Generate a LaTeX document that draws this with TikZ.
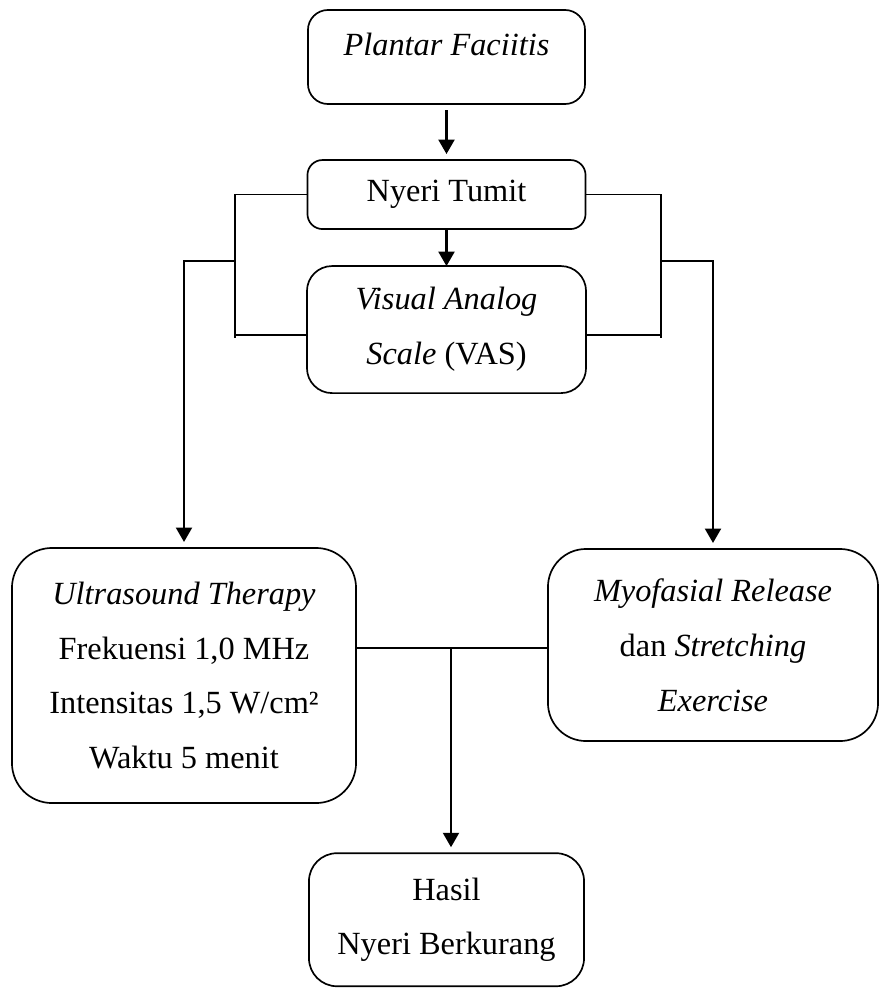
\documentclass[tikz,border=0pt]{standalone}
\usepackage{fontspec}
\setmainfont{Liberation Serif}
\usetikzlibrary{positioning,arrows.meta}

\begin{document}
\begin{tikzpicture}[
  x=0.025cm, y=-0.025cm,
  font=\fontsize{23pt}{39pt}\selectfont,
  box/.style={draw, line width=1.2pt, align=center, inner sep=0pt, outer sep=0pt},
  arr/.style={-{Triangle[length=0.36cm,width=0.4cm]}, line width=1.5pt},
  conn/.style={line width=0.9pt}
]
  \useasboundingbox (0,0) rectangle (880,988);
  \node[box, rounded corners=0.5cm, minimum width=6.925cm, minimum height=2.35cm, text depth=0.65cm] (plantar) at (446.5,57) {\textit{Plantar Faciitis}};
  \node[box, rounded corners=0.375cm, minimum width=6.95cm, minimum height=1.725cm, below=1.4cm of plantar] (nyeri) {Nyeri Tumit};
  \node[box, rounded corners=0.625cm, minimum width=6.975cm, minimum height=3.175cm, below=0.925cm of nyeri] (vas) {\textit{Visual Analog}\\\textit{Scale} (VAS)};
  \node[box, rounded corners=1cm, minimum width=8.6cm, minimum height=6.375cm] (ultra) at (184,675.5) {\textit{Ultrasound Therapy}\\Frekuensi 1,0 MHz\\Intensitas 1,5 W/cm²\\Waktu 5 menit};
  \node[box, rounded corners=0.95cm, minimum width=8.25cm, minimum height=4.8cm] (myo) at (713,645) {\textit{Myofasial Release}\\dan \textit{Stretching}\\\textit{Exercise}};
  \node[box, rounded corners=0.7cm, minimum width=6.875cm, minimum height=3.325cm, below=11.5cm of vas] (hasil) {Hasil\\Nyeri Berkurang};
  % bracket points
  \coordinate (lbb) at (235,338);
  \coordinate (lbl) at (235,335);
  \coordinate (lbm) at (235,261);
  \coordinate (rbb) at (661,338);
  \coordinate (rbl) at (661,335);
  \coordinate (rbm) at (661,261);
  \coordinate (mid) at (451,648);
  \draw[arr, shorten <=0.15cm, shorten >=0.15cm] (plantar.south) -- (nyeri.north);
  \draw[arr] (nyeri.south) -- (vas.north);
  \draw[conn] (nyeri.west) -| (lbb);
  \draw[conn] (vas.west |- lbl) -- (lbl);
  \draw[arr, shorten >=0.15cm] (lbm) -| (ultra.north);
  \draw[conn] (nyeri.east) -| (rbb);
  \draw[conn] (vas.east |- rbl) -- (rbl);
  \draw[arr, shorten >=0.15cm] (rbm) -| (myo.north);
  \draw[conn] (ultra.east |- mid) -- (myo.west |- mid);
  \draw[arr, shorten >=0.15cm] (mid) -- (mid |- hasil.north);
\end{tikzpicture}
\end{document}
